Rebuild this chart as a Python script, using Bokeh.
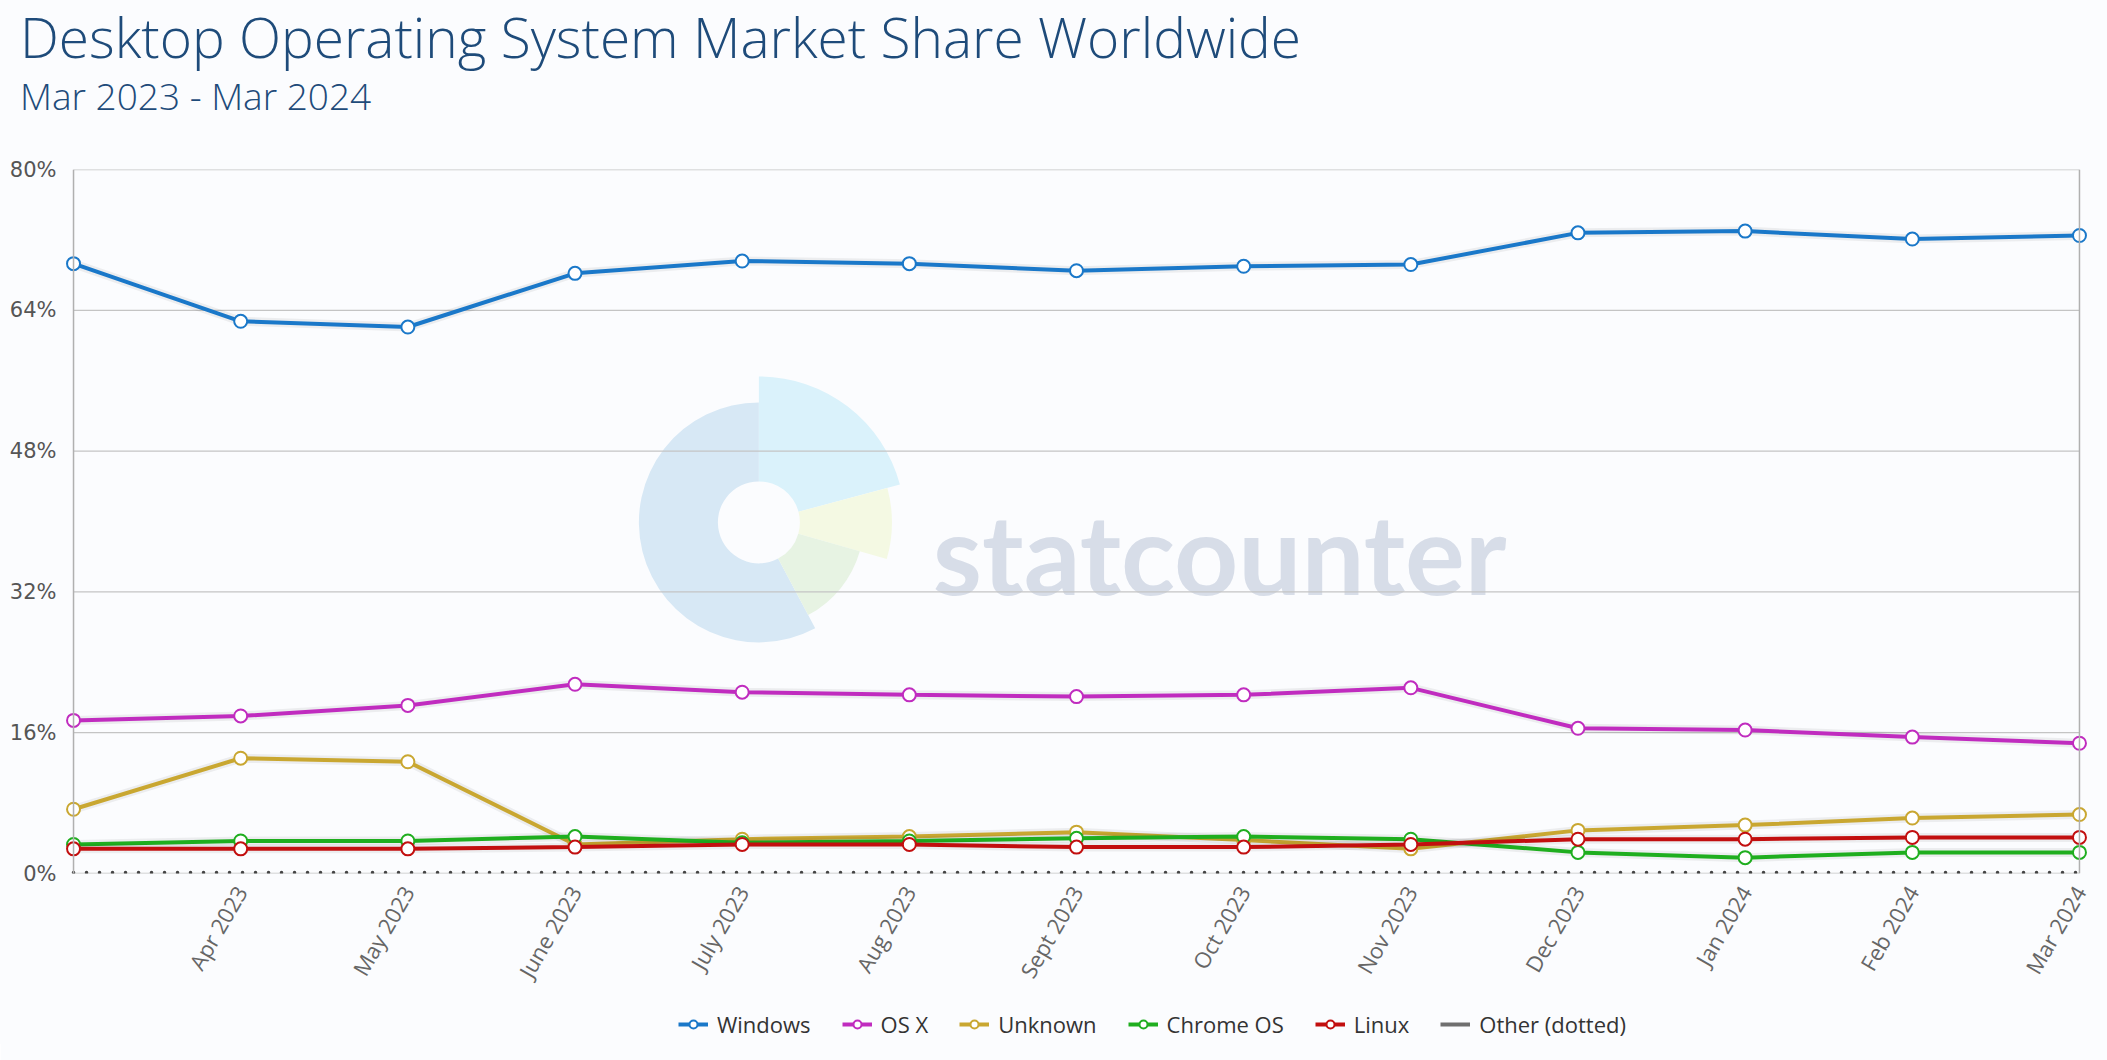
from bokeh.plotting import figure
from bokeh.models import Range1d, FixedTicker, Span, Legend, LegendItem, Div
from bokeh.layouts import column
from bokeh.core.properties import value
from bokeh.embed import file_html
from bokeh.resources import INLINE
import math

title_text = "Desktop Operating System Market Share Worldwide"
subtitle_text = "Mar 2023 - Mar 2024"
months = ["Mar 2023", "Apr 2023", "May 2023", "June 2023", "July 2023", "Aug 2023",
          "Sept 2023", "Oct 2023", "Nov 2023", "Dec 2023", "Jan 2024", "Feb 2024", "Mar 2024"]
windows = [69.3, 62.75, 62.1, 68.2, 69.6, 69.3, 68.5, 69.0, 69.2, 72.8, 73.0, 72.1, 72.5]
osx = [17.4, 17.9, 19.1, 21.5, 20.6, 20.3, 20.1, 20.3, 21.1, 16.5, 16.3, 15.5, 14.8]
unknown = [7.3, 13.1, 12.7, 3.3, 3.9, 4.2, 4.7, 3.8, 2.8, 4.9, 5.5, 6.3, 6.7]
chromeos = [3.3, 3.7, 3.7, 4.2, 3.5, 3.7, 4.0, 4.2, 3.9, 2.4, 1.8, 2.4, 2.4]
linux = [2.8, 2.8, 2.8, 3.0, 3.3, 3.3, 3.0, 3.0, 3.3, 3.9, 3.9, 4.1, 4.1]
other = [0.1, 0.1, 0.1, 0.1, 0.1, 0.1, 0.1, 0.1, 0.1, 0.1, 0.1, 0.1, 0.1]
y_ticks = [0, 16, 32, 48, 64, 80]
y_labels = ["0%", "16%", "32%", "48%", "64%", "80%"]

series = [
    ("Windows", windows, "#1a78c9"),
    ("OS X", osx, "#c02cbf"),
    ("Unknown", unknown, "#c9a731"),
    ("Chrome OS", chromeos, "#1fae1f"),
    ("Linux", linux, "#c20f0f"),
]

BG = "#fbfcfe"
head = Div(
    text=(
        '<div style="position:relative;width:2107px;height:130px;'
        "font-family:'Open Sans';font-weight:300;color:#1e4b7a;white-space:nowrap;\">"
        '<div style="position:absolute;left:20px;top:9px;font-size:55px;line-height:55px;">'
        + title_text + '</div>'
        '<div style="position:absolute;left:20px;top:77px;font-size:37px;line-height:37px;">'
        + subtitle_text + '</div></div>'
    ),
    width=2107, height=130, margin=0, styles={"background-color": BG},
)

xs = list(range(len(months)))
n = len(months) - 1
pad = 0.06

p = figure(frame_width=2026, frame_height=704, output_backend="svg", toolbar_location=None,
           x_range=Range1d(-pad, n + pad), y_range=Range1d(y_ticks[0], y_ticks[-1]),
           min_border_left=63, min_border_right=18, min_border_top=39, min_border_bottom=187,
           background_fill_color=BG, border_fill_color=BG, outline_line_color=None, margin=0)

# watermark
wx, wy = 4.10, 39.9


def wedge(r_out, a0, a1, col):
    p.annular_wedge(x=wx, y=wy, inner_radius=41, outer_radius=r_out,
                    inner_radius_units="screen", outer_radius_units="screen",
                    start_angle=math.radians(a0), end_angle=math.radians(a1),
                    fill_color=col, line_color=None)


wedge(120, 90, 298, "#d7e8f5")
wedge(146, 15, 90, "#daf2fb")
wedge(133, -16, 15, "#f4f9e3")
wedge(105, -62, -16, "#e7f3e3")
p.text(x=[5.14], y=[36.6], text=["statcounter"], text_font=value("Lato"),
       text_font_style="bold", text_font_size="112px", text_color="#d7dde8",
       text_baseline="alphabetic", text_align="left")

# grid lines & frame
p.xgrid.visible = False
p.ygrid.visible = False
p.segment(x0=[0] * len(y_ticks), x1=[n] * len(y_ticks), y0=y_ticks, y1=y_ticks,
          line_color="#c4c4c4", line_width=1.3)
p.add_layout(Span(location=0, dimension="height", line_color="#b0b0b0", line_width=1.5))
p.add_layout(Span(location=n, dimension="height", line_color="#b0b0b0", line_width=1.5))

for name, vals, col in series:
    p.line(xs, vals, line_color="#000000", line_alpha=0.06, line_width=9)
    p.line(xs, vals, line_color=col, line_width=4)
    p.scatter(xs, vals, size=13, marker="circle", fill_color="white",
              line_color=col, line_width=2)

p.line(xs, other, line_color="#444444", line_width=3.5, line_dash="0 13", line_cap="round")

# axes
p.yaxis.ticker = FixedTicker(ticks=y_ticks)
p.yaxis.major_label_overrides = {t: l for t, l in zip(y_ticks, y_labels)}
p.yaxis.axis_line_color = None
p.yaxis.major_tick_line_color = None
p.yaxis.minor_tick_line_color = None
p.yaxis.major_label_standoff = 1
p.yaxis.major_label_text_font = "DejaVu Sans"
p.yaxis.major_label_text_font_size = "21px"
p.yaxis.major_label_text_color = "#555555"

p.xaxis.ticker = FixedTicker(ticks=xs[1:])
p.xaxis.major_label_overrides = {i: m for i, m in enumerate(months)}
p.xaxis.axis_line_color = None
p.xaxis.major_tick_line_color = None
p.xaxis.minor_tick_line_color = None
p.xaxis.major_label_orientation = math.pi / 3
p.xaxis.major_label_standoff = 8
p.xaxis.major_label_text_font = "Open Sans"
p.xaxis.major_label_text_font_size = "22px"
p.xaxis.major_label_text_color = "#666666"

# legend strip (own small figure, pulled up over the chart's bottom border)
lf = figure(width=2107, height=40, output_backend="svg", toolbar_location=None,
            x_axis_location=None, y_axis_location=None,
            x_range=Range1d(0, 1), y_range=Range1d(1000, 1001),
            min_border=0, outline_line_color=None,
            background_fill_alpha=0, border_fill_alpha=0, margin=(-56, 0, 0, 0))
lf.xgrid.visible = False
lf.ygrid.visible = False
legend_items = []
for name, vals, col in series:
    lr = lf.line(xs, vals, line_color=col, line_width=4)
    sr = lf.scatter(xs, vals, size=13, marker="circle", fill_color="white",
                    line_color=col, line_width=2)
    legend_items.append(LegendItem(label=name, renderers=[lr, sr]))
olr = lf.line(xs, other, line_color="#6f6f6f", line_width=4)
legend_items.append(LegendItem(label="Other (dotted)", renderers=[olr]))

legend = Legend(items=legend_items, orientation="horizontal", location=(615, 5),
                border_line_color=None, background_fill_alpha=0,
                label_text_font="Open Sans", label_text_font_size="22px",
                label_text_color="#333333", glyph_width=30, glyph_height=20,
                label_standoff=9, spacing=31, padding=0, margin=0)
lf.add_layout(legend, "center")

layout = column(head, p, lf, spacing=0, margin=0, styles={"background-color": BG})
open("out.html", "w").write(file_html(layout, INLINE))
